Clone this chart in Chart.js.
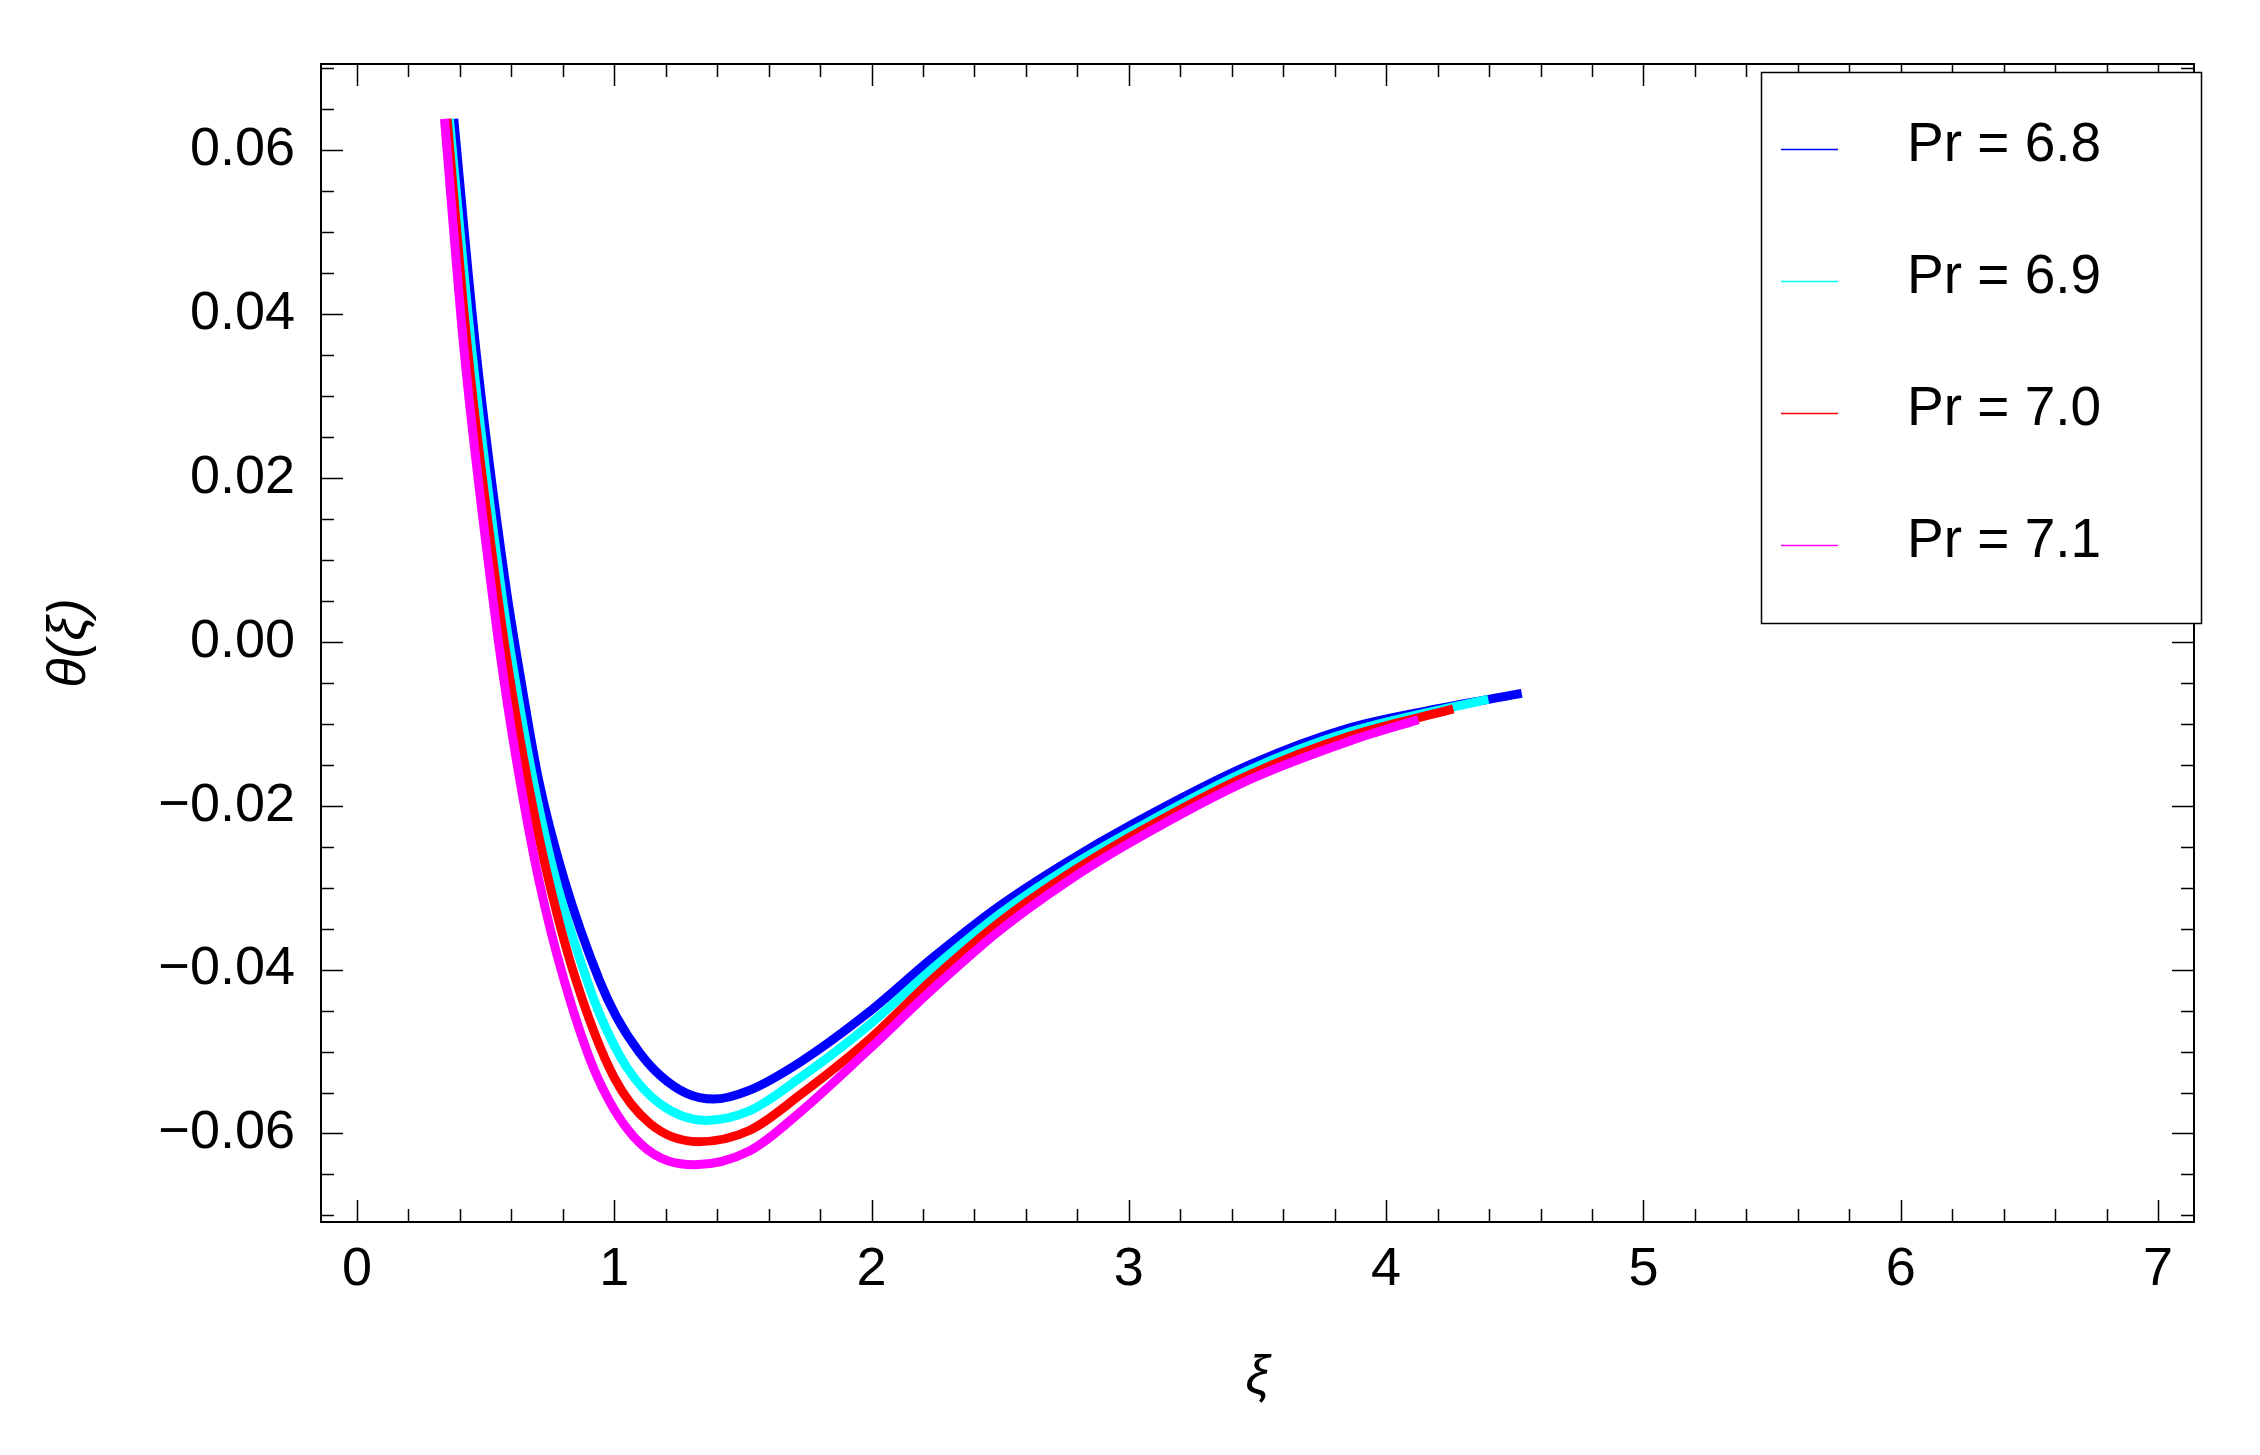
<!DOCTYPE html>
<html>
<head>
<meta charset="utf-8">
<script src="https://cdn.jsdelivr.net/npm/chart.js@4.4.1/dist/chart.umd.min.js"></script>
<style>
  html, body { margin: 0; padding: 0; background: #ffffff; }
  #wrap { width: 2260px; height: 1455px; }
</style>
</head>
<body>
<div id="wrap"><canvas id="thetaChart" width="2260" height="1455"></canvas></div>
<script>
// Values
var seriesLabels = ['Pr = 6.8', 'Pr = 6.9', 'Pr = 7.0', 'Pr = 7.1'];

var xPr68 = [0.376, 0.462, 0.575, 0.637, 0.708, 0.806, 0.942, 1.009, 1.100, 1.178, 1.281, 1.385, 1.527, 1.722, 1.981, 2.240, 2.499, 2.758, 3.017, 3.471, 3.859, 4.248, 4.527];
var yPr68 = [0.0638, 0.0356, 0.0075, -0.0047, -0.0172, -0.0291, -0.0413, -0.0458, -0.0502, -0.0529, -0.0551, -0.0558, -0.0547, -0.0513, -0.0454, -0.0385, -0.0322, -0.0269, -0.0222, -0.0150, -0.0105, -0.0079, -0.0063];

var xPr69 = [0.359, 0.446, 0.564, 0.615, 0.685, 0.773, 0.894, 0.948, 1.048, 1.178, 1.353, 1.527, 1.722, 1.981, 2.240, 2.499, 2.758, 3.017, 3.471, 3.859, 4.397];
var yPr69 = [0.0638, 0.0356, 0.0055, -0.0047, -0.0169, -0.0291, -0.0413, -0.0458, -0.0519, -0.0564, -0.0584, -0.0572, -0.0532, -0.0470, -0.0398, -0.0332, -0.0277, -0.0230, -0.0156, -0.0110, -0.0070];

var xPr70 = [0.350, 0.430, 0.547, 0.595, 0.663, 0.745, 0.851, 0.998, 1.139, 1.327, 1.527, 1.722, 1.981, 2.240, 2.499, 2.758, 3.017, 3.471, 3.859, 4.261];
var yPr70 = [0.0638, 0.0356, 0.0055, -0.0047, -0.0169, -0.0291, -0.0413, -0.0531, -0.0588, -0.0610, -0.0596, -0.0553, -0.0488, -0.0411, -0.0342, -0.0285, -0.0236, -0.0162, -0.0115, -0.0082];

var xPr71 = [0.340, 0.416, 0.527, 0.571, 0.633, 0.707, 0.805, 0.934, 1.100, 1.314, 1.527, 1.722, 1.981, 2.240, 2.499, 2.758, 3.017, 3.471, 3.859, 4.125];
var yPr71 = [0.0638, 0.0356, 0.0055, -0.0047, -0.0169, -0.0291, -0.0413, -0.0531, -0.0612, -0.0638, -0.0621, -0.0574, -0.0500, -0.0423, -0.0352, -0.0293, -0.0243, -0.0168, -0.0121, -0.0095];

var xTickValues = [0, 1, 2, 3, 4, 5, 6, 7];
var yTickValues = [-0.06, -0.04, -0.02, 0.00, 0.02, 0.04, 0.06];

(function() {
    'use strict';

    // Styles
    var COLORS = ['#0000ff', '#00ffff', '#ff0000', '#ff00ff'];
    var FONT = '"Liberation Sans", Arial, sans-serif';
    var X_MIN = -0.14, X_MAX = 7.14;
    var Y_MIN = -0.0708, Y_MAX = 0.0705;

    // frame with inward ticks on all four sides (Mathematica style)
    var frameTicksPlugin = {
        id: 'frameTicks',
        afterDatasetsDraw: function(chart){
            var ctx = chart.ctx;
            var area = chart.chartArea;
            var xs = chart.scales.x, ys = chart.scales.y;
            var MAJOR = 22, MINOR = 13;
            var i, v, p, len;
            ctx.save();
            ctx.strokeStyle = '#000000';
            ctx.lineWidth = 1.5;
            ctx.beginPath();
            for(i = 0; i <= 35; i++){
                v = i * 0.2;
                p = Math.round(xs.getPixelForValue(v)) + 0.5;
                len = (i % 5 === 0) ? MAJOR : MINOR;
                ctx.moveTo(p, area.bottom); ctx.lineTo(p, area.bottom - len);
                ctx.moveTo(p, area.top); ctx.lineTo(p, area.top + len);
            }
            for(i = -14; i <= 14; i++){
                v = i * 0.005;
                p = Math.round(ys.getPixelForValue(v)) + 0.5;
                len = (i % 4 === 0) ? MAJOR : MINOR;
                ctx.moveTo(area.left, p); ctx.lineTo(area.left + len, p);
                ctx.moveTo(area.right, p); ctx.lineTo(area.right - len, p);
            }
            ctx.stroke();
            ctx.lineWidth = 2;
            ctx.strokeRect(area.left, area.top, area.right - area.left, area.bottom - area.top);
            ctx.restore();
        }
    };

    // boxed legend in the upper right corner, drawn over the frame
    var boxLegendPlugin = {
        id: 'boxLegend',
        afterDraw: function(chart){
            var ctx = chart.ctx;
            var sets = chart.data.datasets;
            ctx.save();
            ctx.fillStyle = '#ffffff';
            ctx.fillRect(1761, 72, 440, 551);
            ctx.strokeStyle = '#000000';
            ctx.lineWidth = 1.5;
            ctx.strokeRect(1761.5, 72.5, 440, 551);
            ctx.font = '55px ' + FONT;
            ctx.textBaseline = 'middle';
            ctx.textAlign = 'left';
            for(var i = 0; i < sets.length; i++){
                var rowY = 149 + i * 132;
                ctx.strokeStyle = sets[i].borderColor;
                ctx.lineWidth = 1.5;
                ctx.beginPath();
                ctx.moveTo(1781, rowY + 0.5);
                ctx.lineTo(1838, rowY + 0.5);
                ctx.stroke();
                ctx.fillStyle = '#000000';
                ctx.fillText(sets[i].label, 1907, rowY - 3);
            }
            ctx.restore();
        }
    };

    _init();

    function _init(){
        var xs = [xPr68, xPr69, xPr70, xPr71];
        var ys = [yPr68, yPr69, yPr70, yPr71];
        var datasets = [];
        for(var i = 0; i < seriesLabels.length; i++){
            datasets.push(_configDataset(seriesLabels[i], xs[i], ys[i], COLORS[i], seriesLabels.length - i));
        }
        _buildChart(datasets);
    }

    function _configDataset(label, xVals, yVals, color, drawOrder){
        var points = [];
        for(var i = 0; i < xVals.length; i++){
            points.push({x: xVals[i], y: yVals[i]});
        }
        return {
            label: label,
            data: points,
            borderColor: color,
            backgroundColor: color,
            borderWidth: 9,
            pointRadius: 0,
            pointHoverRadius: 0,
            fill: false,
            cubicInterpolationMode: 'monotone',
            order: drawOrder
        };
    }

    function _formatY(value){
        var s = Math.abs(value) < 1e-9 ? '0.00' : value.toFixed(2);
        return s.replace('-', '\u2212');
    }

    function _buildChart(datasets){
        var config = {
            type: 'line',
            data: { datasets: datasets },
            options: {
                responsive: false,
                animation: false,
                events: [],
                layout: { padding: { top: 64, right: 66, left: 0, bottom: 0 } },
                plugins: {
                    legend: { display: false },
                    tooltip: { enabled: false }
                },
                scales: {
                    x: {
                        type: 'linear',
                        min: X_MIN,
                        max: X_MAX,
                        afterBuildTicks: function(scale){
                            scale.ticks = xTickValues.map(function(v){ return {value: v}; });
                        },
                        afterFit: function(scale){ scale.height = 233; },
                        grid: { display: false, drawTicks: false },
                        border: { display: false },
                        ticks: {
                            color: '#000000',
                            font: { family: FONT, size: 54 },
                            padding: 16,
                            maxRotation: 0,
                            callback: function(v){ return String(v); }
                        },
                        title: {
                            display: true,
                            text: '\u03be',
                            color: '#000000',
                            font: { family: FONT, size: 54, style: 'italic' },
                            padding: { top: 0, bottom: 45 }
                        }
                    },
                    y: {
                        type: 'linear',
                        min: Y_MIN,
                        max: Y_MAX,
                        afterBuildTicks: function(scale){
                            scale.ticks = yTickValues.map(function(v){ return {value: v}; });
                        },
                        afterFit: function(scale){ scale.width = 321; },
                        grid: { display: false, drawTicks: false },
                        border: { display: false },
                        ticks: {
                            color: '#000000',
                            font: { family: FONT, size: 54 },
                            padding: 26,
                            callback: function(v){ return _formatY(v); }
                        },
                        title: {
                            display: true,
                            text: '\u03b8(\u03be)',
                            color: '#000000',
                            font: { family: FONT, size: 54, style: 'italic' },
                            padding: { top: 38, bottom: 0 }
                        }
                    }
                }
            },
            plugins: [frameTicksPlugin, boxLegendPlugin]
        };
        var chart = new Chart(document.getElementById('thetaChart'), config);
    }
})();
</script>
</body>
</html>
